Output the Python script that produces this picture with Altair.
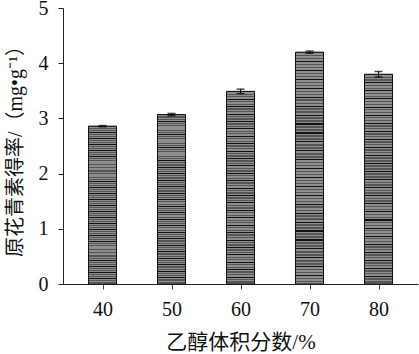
import altair as alt
import pandas as pd

ethanol = [40, 50, 60, 70, 80]
yield_mg = [2.86, 3.07, 3.49, 4.20, 3.80]
err = [0.01, 0.02, 0.04, 0.02, 0.05]

df = pd.DataFrame({"x": ethanol, "y": yield_mg, "e": err})
df["lo"] = df["y"] - df["e"]
df["hi"] = df["y"] + df["e"]

# striped fill (horizontal hatch)
stops = []
n = 26
seg = [
    (0.0, "#111111"), (0.13, "#111111"),
    (0.13, "#8e8e8e"), (0.30, "#8e8e8e"),
    (0.30, "#555555"), (0.48, "#555555"),
    (0.48, "#8e8e8e"), (0.65, "#8e8e8e"),
    (0.65, "#555555"), (0.82, "#555555"),
    (0.82, "#8e8e8e"), (1.0, "#8e8e8e"),
]
for i in range(n):
    a = i / n
    p = 1 / n
    for off, c in seg:
        stops.append(alt.GradientStop(offset=min(1.0, a + off * p), color=c))

fill = alt.LinearGradient(gradient="linear", x1=0, y1=0, x2=0, y2=1, stops=stops)

font = "Liberation Serif, Noto Sans CJK SC"

xscale = alt.Scale(domain=[35, 85], nice=False, zero=False)
yscale = alt.Scale(domain=[0, 5], nice=False)

xaxis = alt.Axis(
    title="乙醇体积分数/%",
    values=[40, 45, 50, 55, 60, 65, 70, 75, 80, 85],
    labelExpr="datum.value % 10 == 0 ? datum.label : ''",
    tickSize={"condition": {"test": "datum.value % 10 == 0", "value": 5}, "value": 4},
    grid=False, domainColor="#222", tickColor="#444",
    labelFontSize=20, labelFont=font, labelColor="#111", labelPadding=10,
    titleFontSize=21, titleFont=font, titleFontWeight="normal", titleColor="#111", titlePadding=12,
)
yaxis = alt.Axis(
    title="原花青素得率/（mg•g⁻¹）",
    values=[0, 0.5, 1, 1.5, 2, 2.5, 3, 3.5, 4, 4.5, 5],
    labelExpr="datum.value % 1 == 0 ? datum.label : ''",
    tickSize={"condition": {"test": "datum.value % 1 == 0", "value": 5}, "value": 3},
    grid=False, domainColor="#222", tickColor="#222",
    labelFontSize=20, labelFont=font, labelColor="#111", labelPadding=10,
    titleFontSize=20, titleFont=font, titleFontWeight="normal", titleColor="#111", titlePadding=13,
)

base = alt.Chart(df)
bars = base.mark_bar(size=28, fill=fill, stroke="#111", strokeWidth=1).encode(
    x=alt.X("x:Q", scale=xscale, axis=xaxis),
    y=alt.Y("y:Q", scale=yscale, axis=yaxis),
)
rule = base.mark_rule(color="#000", strokeWidth=1).encode(
    x="x:Q", y="lo:Q", y2="hi:Q"
)
cap_hi = base.mark_tick(orient="horizontal", size=8, thickness=1.5, color="#000").encode(
    x="x:Q", y="hi:Q"
)
cap_lo = base.mark_tick(orient="horizontal", size=8, thickness=1.5, color="#000").encode(
    x="x:Q", y="lo:Q"
)

chart = alt.layer(bars, rule, cap_hi, cap_lo).properties(
    width=355, height=276,
    autosize=alt.AutoSizeParams(type="none"),
    padding={"left": 63, "top": 8, "right": 1, "bottom": 70},
    background="white",
).configure_view(stroke=None)

chart.save("out.html", embed_options={"renderer": "svg", "actions": False})
